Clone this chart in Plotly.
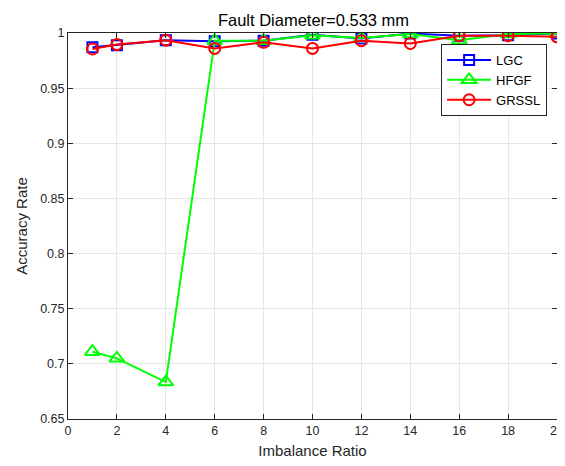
import plotly.graph_objects as go

x = [1, 2, 4, 6, 8, 10, 12, 14, 16, 18, 20]
lgc = [0.987, 0.989, 0.9935, 0.9925, 0.993, 0.9985, 0.995, 0.9995, 0.9975, 0.998, 0.9995]
hfgf = [0.711, 0.705, 0.6835, 0.993, 0.993, 0.998, 0.9955, 0.999, 0.9935, 0.999, 0.9995]
grssl = [0.9855, 0.9895, 0.9935, 0.986, 0.9915, 0.986, 0.993, 0.9905, 0.9975, 0.9975, 0.9965]

xticks = list(range(0, 21, 2))
yticks = [0.65, 0.7, 0.75, 0.8, 0.85, 0.9, 0.95, 1]
ytext = ["0.65", "0.7", "0.75", "0.8", "0.85", "0.9", "0.95", "1"]

FONT = "Liberation Sans, Arial"

fig = go.Figure()
fig.add_trace(go.Scatter(x=x, y=lgc, name="LGC", mode="lines+markers",
                         line=dict(color="#0000ff", width=2),
                         marker=dict(symbol="square-open", size=10, color="#0000ff", line=dict(width=2))))
fig.add_trace(go.Scatter(x=x, y=hfgf, name="HFGF", mode="lines+markers",
                         line=dict(color="#00ff00", width=2),
                         marker=dict(symbol="triangle-up-open", size=13, color="#00ff00", line=dict(width=2))))
fig.add_trace(go.Scatter(x=x, y=grssl, name="GRSSL", mode="lines+markers",
                         line=dict(color="#ff0000", width=2),
                         marker=dict(symbol="circle-open", size=11, color="#ff0000", line=dict(width=2))))

axis_common = dict(showline=True, linecolor="#262626", linewidth=1, mirror="ticks",
                   ticks="inside", ticklen=5, tickcolor="#262626", automargin=False,
                   ticklabeloverflow="allow",
                   showgrid=True, gridcolor="#e6e6e6", gridwidth=1, zeroline=False,
                   tickfont=dict(family=FONT, size=12.5, color="#262626"))

fig.update_xaxes(range=[0, 20], tickvals=xticks, ticktext=[str(v) for v in xticks],
                 title=dict(text="Imbalance Ratio", font=dict(family=FONT, size=15, color="#262626"), standoff=8),
                 **axis_common)
fig.update_yaxes(range=[0.65, 1], tickvals=yticks, ticktext=ytext,
                 title=dict(text="Accuracy Rate", font=dict(family=FONT, size=15, color="#262626"), standoff=8),
                 **axis_common)

fig.update_layout(
    width=557, height=458,
    margin=dict(l=60, r=8, t=25, b=47, autoexpand=False),
    paper_bgcolor="white", plot_bgcolor="white",
    title=dict(text="Fault Diameter=0.533 mm", x=0.5485, xanchor="center",
               y=1 - 12 / 458, yanchor="middle", automargin=False,
               font=dict(family=FONT, size=16.5, color="black")),
    legend=dict(x=0.763, y=0.9715, xanchor="left", yanchor="top",
                bgcolor="white", bordercolor="#262626", borderwidth=1,
                font=dict(family=FONT, size=13, color="black"),
                tracegroupgap=0, itemwidth=44),
    showlegend=True,
)

fig.write_html("out.html")
